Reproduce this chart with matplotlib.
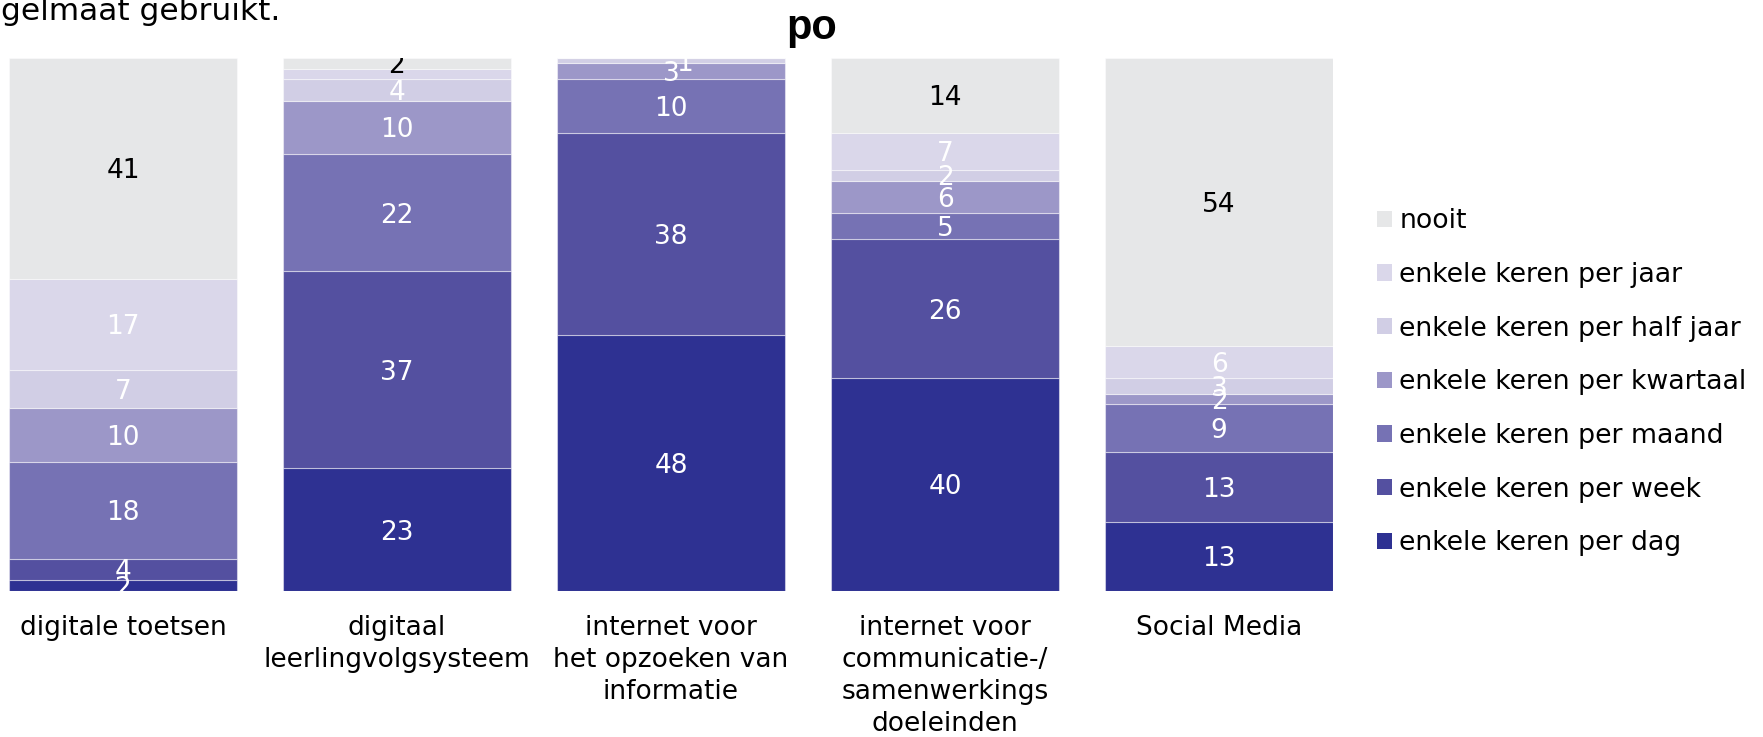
import matplotlib
matplotlib.use('Agg')
import matplotlib.pyplot as plt
import numpy as np
from matplotlib.patches import Patch

# ---- data ----
categories = ["digitale toetsen",
              "digitaal\nleerlingvolgsysteem",
              "internet voor\nhet opzoeken van\ninformatie",
              "internet voor\ncommunicatie-/\nsamenwerkings\ndoeleinden",
              "Social Media"]
series_names = ["enkele keren per dag", "enkele keren per week",
                "enkele keren per maand", "enkele keren per kwartaal",
                "enkele keren per half jaar", "enkele keren per jaar", "nooit"]
dag = [2, 23, 48, 40, 13]
week = [4, 37, 38, 26, 13]
maand = [18, 22, 10, 5, 9]
kwartaal = [10, 10, 3, 6, 2]
half_jaar = [7, 4, 1, 2, 3]
jaar = [17, 2, 0, 7, 6]
nooit = [41, 2, 0, 14, 54]
title = "po"
header_fragment = "gelmaat gebruikt."

series = [dag, week, maand, kwartaal, half_jaar, jaar, nooit]
colors = ["#2e3192", "#5450a0", "#7672b4", "#9c97c8", "#d1cee5", "#dad7ea", "#e6e7e8"]
label_colors = ["white"] * 6 + ["black"]
hidden_labels = {(5, 1)}
label_nudge = {(4, 2): 0.05}

W, H = 1763, 737
fig = plt.figure(figsize=(W / 100, H / 100), dpi=100)
ax = fig.add_axes([9 / W, 1 - 591 / H, (1333 - 9) / W, (591 - 58) / H])

x = np.arange(len(categories))
data = np.array(series, dtype=float)
totals = data.sum(axis=0)
shares = data / totals * 100
width = 0.832
bottom = np.zeros(len(categories))
for i, (vals, col) in enumerate(zip(shares, colors)):
    ax.bar(x, vals, width, bottom=bottom, color=col,
           edgecolor=(1, 1, 1, 0.45), linewidth=0.8, label=series_names[i])
    for j, v in enumerate(vals):
        raw = series[i][j]
        if raw > 0 and (i, j) not in hidden_labels:
            ax.text(x[j] + label_nudge.get((i, j), 0), bottom[j] + v / 2, str(raw),
                    ha='center', va='center_baseline', color=label_colors[i],
                    fontsize=19, clip_on=True)
    bottom += vals

ax.set_xlim(-width / 2, len(categories) - 1 + width / 2)
ax.set_ylim(0, 100)
ax.set_yticks([])
ax.set_xticks(x)
ax.set_xticklabels(categories, fontsize=19, linespacing=1.3)
ax.tick_params(axis='x', length=0, pad=17)
for s in ax.spines.values():
    s.set_visible(False)

fig.text(812 / W, 1 - 38.5 / H, title, ha='center', va='baseline',
         fontsize=30, fontweight='bold', family='Liberation Sans')
fig.text(1 / W, 1 - 20 / H, header_fragment, ha='left', va='baseline', fontsize=22.5)

handles = [Patch(facecolor=c, edgecolor='none') for c in colors][::-1]
labels = series_names[::-1]
fig.legend(handles, labels, loc='upper left', bbox_to_anchor=(1377 / W, 1 - 208.5 / H),
           frameon=False, fontsize=19.3, handlelength=0.56, handleheight=0.56,
           handletextpad=0.27, labelspacing=1.03, borderpad=0, borderaxespad=0)

fig.savefig('out.png', dpi=100)
